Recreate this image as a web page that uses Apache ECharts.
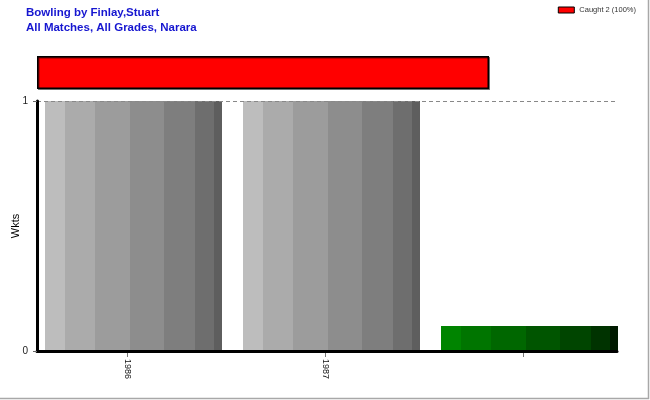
<!DOCTYPE html>
<html><head><meta charset="utf-8">
<script src="https://cdn.jsdelivr.net/npm/echarts@6/dist/echarts.min.js"></script>
<style>html,body{margin:0;padding:0;background:#fff}#c{width:650px;height:400px}</style>
</head><body><div id="c"></div>
<script>
const titleLines = ['Bowling by Finlay,Stuart', 'All Matches, All Grades, Narara'];
const categories = ['1986', '1987', ''];
const wickets = [1, 1, 0.1];
const dismissalNames = ['Caught 2 (100%)'];
const dismissalPct = [100];
const yTicks = [0, 1];

function bands(colors, stops) {
  const cs = [];
  for (let i = 0; i < colors.length; i++) {
    cs.push({offset: stops[i], color: colors[i]});
    cs.push({offset: stops[i + 1], color: colors[i]});
  }
  return {type: 'linear', x: 0, y: 0, x2: 1, y2: 0, colorStops: cs};
}
const stops = [0, 0.115, 0.285, 0.48, 0.675, 0.845, 0.955, 1];
const grey = bands(['#bdbdbd', '#ababab', '#9c9c9c', '#8d8d8d', '#7e7e7e', '#6e6e6e', '#5e5e5e'], stops);
const green = bands(['#008400', '#007500', '#006700', '#005500', '#004500', '#003300', '#001a00'], stops);
const barColors = [grey, grey, green];
const font = 'Liberation Sans, Arial';
const yMin = yTicks[0], yMax = yTicks[yTicks.length - 1];

const chart = echarts.init(document.getElementById('c'), null, {renderer: 'canvas'});
chart.setOption({
  animation: false,
  backgroundColor: '#fff',
  title: {
    text: titleLines.join('\n'), left: 26, top: 5, padding: 0,
    textStyle: {color: '#1616d0', fontSize: 11.5, fontWeight: 'bold', fontFamily: font, lineHeight: 15}
  },
  legend: {
    data: dismissalNames, right: 14, top: 6, padding: 0, itemWidth: 16, itemHeight: 6, icon: 'rect',
    itemStyle: {borderColor: '#000', borderWidth: 1},
    textStyle: {fontSize: 7.5, color: '#333', fontFamily: font}
  },
  graphic: [{
    type: 'rect', shape: {x: -10, y: -10, width: 658.5, height: 408.5},
    style: {fill: 'none', stroke: '#a8a8a8', lineWidth: 1.5}, silent: true
  }],
  grid: [
    {left: 37, right: 33, top: 101, height: 250, outerBoundsMode: 'none', containLabel: false},
    {left: 34.5, width: 594, top: 101, height: 250, outerBoundsMode: 'none', containLabel: false},
    {left: 28.5, width: 594, top: 101, height: 250, outerBoundsMode: 'none', containLabel: false},
    {left: 37, width: 452, top: 56, height: 33, outerBoundsMode: 'none', containLabel: false}
  ],
  xAxis: [{
    type: 'category', data: categories, gridIndex: 0, z: 5,
    axisLine: {lineStyle: {color: '#000', width: 3}},
    axisTick: {show: false}, axisLabel: {show: false}
  }, {
    type: 'category', data: categories, gridIndex: 1, show: false
  }, {
    type: 'category', data: categories, gridIndex: 2,
    axisLine: {show: false},
    axisTick: {show: true, alignWithLabel: true, length: 6, lineStyle: {color: '#777'}},
    axisLabel: {rotate: -90, fontSize: 9, color: '#111', margin: 8, fontFamily: font}
  }, {
    type: 'value', gridIndex: 3, min: 0, max: 100, show: false
  }],
  yAxis: [{
    type: 'value', gridIndex: 0, min: yMin, max: yMax, interval: 1, z: 5,
    name: 'Wkts', nameLocation: 'middle', nameGap: 16, nameMoveOverlap: false,
    nameTextStyle: {fontSize: 11, color: '#000', fontFamily: font},
    axisLine: {show: true, lineStyle: {color: '#000', width: 3}},
    axisTick: {show: true, length: 4, lineStyle: {color: '#666'}},
    axisLabel: {fontSize: 10, color: '#222', margin: 9, fontFamily: font},
    splitLine: {show: true, lineStyle: {color: '#888', type: [4, 3], width: 1}}
  }, {
    type: 'value', gridIndex: 1, min: yMin, max: yMax, show: false
  }, {
    type: 'value', gridIndex: 2, min: yMin, max: yMax, show: false
  }, {
    type: 'category', gridIndex: 3, data: [''], show: false
  }],
  series: [{
    type: 'bar', xAxisIndex: 1, yAxisIndex: 1, barWidth: 177,
    data: wickets.map((v, i) => ({value: v, itemStyle: {color: barColors[i]}}))
  }, {
    name: dismissalNames[0], type: 'bar', xAxisIndex: 3, yAxisIndex: 3, barWidth: 33,
    data: dismissalPct,
    itemStyle: {color: '#ff0000', borderColor: '#000', borderWidth: 1.5,
      shadowColor: 'rgba(0,0,0,0.5)', shadowOffsetX: 1, shadowOffsetY: 1}
  }]
});
</script></body></html>
